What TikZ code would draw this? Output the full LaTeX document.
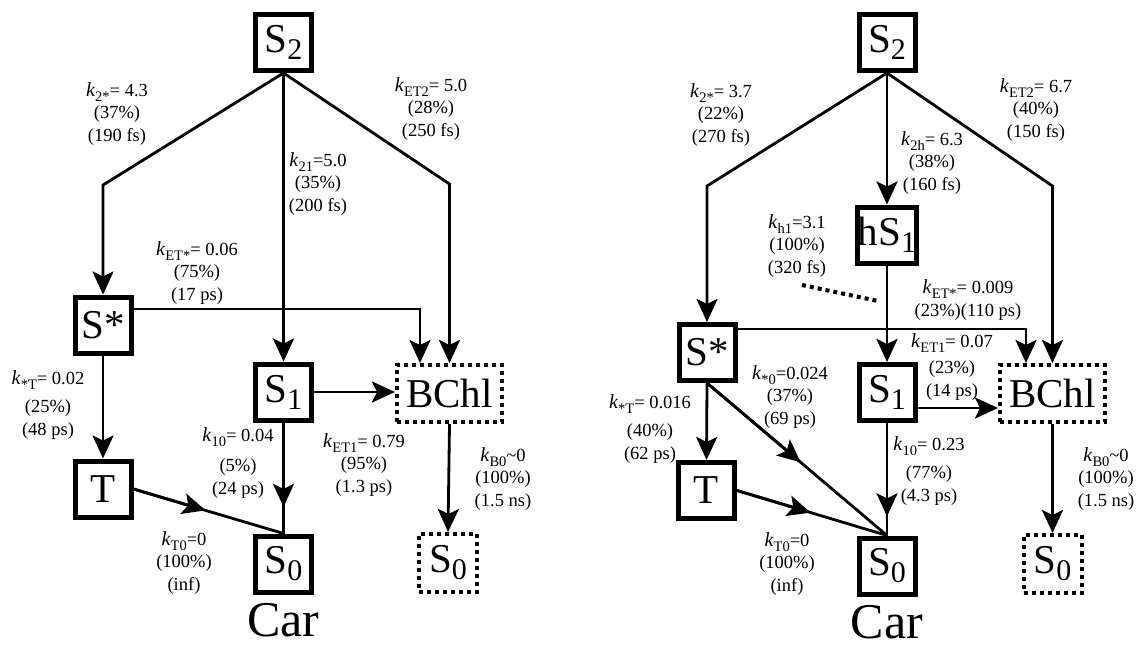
\documentclass[tikz,border=0pt]{standalone}
\usepackage{fontspec}
\setmainfont{Liberation Serif}
\usetikzlibrary{arrows.meta,calc}
\newcommand\kk[1]{{\fontsize{20}{20}\selectfont\textit{k}}\raisebox{-5pt}{\fontsize{14.5}{14.5}\selectfont #1}}
\newcommand\bsub[1]{\raisebox{-7pt}{\fontsize{30}{30}\selectfont #1}}
\begin{document}
\begin{tikzpicture}[x=1pt,y=-1pt,
  box/.style={draw,line width=5pt,minimum width=56pt,minimum height=56pt,inner sep=0pt,font=\fontsize{41}{41}\selectfont},
  dbox/.style={draw,line width=4pt,dash pattern=on 4pt off 4pt,minimum width=58pt,minimum height=58pt,inner sep=0pt,font=\fontsize{41}{41}\selectfont},
  wbox/.style={dbox,minimum width=105pt,minimum height=57pt},
  cartext/.style={inner sep=0pt,font=\fontsize{50}{50}\selectfont},
  conn/.style={line width=2.8pt},
  arr/.style={conn,-{Stealth[length=23pt,width=21pt,inset=5pt]}},
  dotline/.style={line width=4pt,dash pattern=on 4pt off 4pt},
  lab/.style={align=center,font=\fontsize{18.5}{22.5}\selectfont,inner sep=0pt}]
\useasboundingbox (0,0) rectangle (1137,647);

% ---------------- left diagram ----------------
\node[box] (S2L) at (283.5,42.5) {S\bsub{2}};
\node[box] (SsL) at (103,325) {S*};
\node[box] (S1L) at (283.5,392) {S\bsub{1}};
\node[box] (TL) at (103,489) {T};
\node[box] (S0L) at (283.5,564) {S\bsub{0}};
\node[wbox] (BChlL) at (449.5,393.5) {BChl};
\node[dbox] (S0BL) at (448,563) {S\bsub{0}};
\node[cartext] (CarL) at (283.5,620) {Car};

\coordinate (bL1) at (103,185);
\coordinate (bL2) at (449.5,184);
\draw[arr] (S2L.south) -- (bL1) -- (SsL.north);
\draw[arr] (S2L.south) -- (S1L.north);
\draw[arr] (S2L.south) -- (bL2) -- (BChlL.north);
\draw[arr] ([yshift=16pt]SsL.east) -| ([xshift=-29.5pt]BChlL.north);
\draw[arr] (SsL.south) -- (TL.north);
\draw[arr] (S1L.east) -- (S1L.east -| BChlL.west);
\draw[conn] (S1L.south) -- (S0L.north);
\draw[arr] (S1L.south) -- ($(S1L.south)!0.76!(S0L.north)$);
\draw[conn] (TL.east) -- (S0L.north);
\draw[arr] (TL.east) -- ($(TL.east)!0.48!(S0L.north)$);
\draw[arr] (BChlL.south) -- (S0BL.north);

\node[lab] (k2sL) at (117,114) {\kk{2*}= 4.3\\(37\%)\\(190 fs)};
\node[lab] (k21L) at (318,184) {\kk{21}=5.0\\(35\%)\\(200 fs)};
\node[lab] (kET2L) at (431,109) {\kk{ET2}= 5.0\\(28\%)\\(250 fs)};
\node[lab] (kETsL) at (197,273) {\kk{ET*}= 0.06\\(75\%)\\(17 ps)};
\node[lab] (ksTL) at (48,405) {\kk{*T}= 0.02\\[6pt](25\%)\\(48 ps)};
\node[lab] (k10L) at (238,463) {\kk{10}= 0.04\\[8pt](5\%)\\(24 ps)};
\node[lab] (kT0L) at (184,563) {\kk{T0}=0\\(100\%)\\(inf)};
\node[lab] (kET1L) at (364,465) {\kk{ET1}= 0.79\\(95\%)\\(1.3 ps)};
\node[lab] (kB0L) at (503,479) {\kk{B0}\textasciitilde0\\(100\%)\\(1.5 ns)};

% ---------------- right diagram ----------------
\node[box] (S2R) at (887,42.5) {S\bsub{2}};
\node[box] (hS1) at (887,235) {hS\bsub{1}};
\node[box] (SsR) at (707,352.5) {S*};
\node[box] (S1R) at (887,392.5) {S\bsub{1}};
\node[box] (TR) at (706.5,490.5) {T};
\node[box] (S0R) at (887,566) {S\bsub{0}};
\node[wbox] (BChlR) at (1052.5,393.5) {BChl};
\node[dbox] (S0BR) at (1052.5,564) {S\bsub{0}};
\node[cartext] (CarR) at (887,622) {Car};

\coordinate (bR1) at (707,186);
\coordinate (bR2) at (1052.5,186);
\draw[arr] (S2R.south) -- (bR1) -- (SsR.north);
\draw[arr] (S2R.south) -- (hS1.north);
\draw[arr] (S2R.south) -- (bR2) -- (BChlR.north);
\draw[arr] (hS1.south) -- (S1R.north);
\draw[arr] ([yshift=23.5pt]SsR.east) -| ([xshift=-26.5pt]BChlR.north);
\draw[arr] (SsR.south) -- (TR.north);
\draw[conn] (SsR.south) -- (S0R.north);
\draw[arr] (SsR.south) -- ($(SsR.south)!0.52!(S0R.north)$);
\draw[conn] (TR.east) -- (S0R.north);
\draw[arr] (TR.east) -- ($(TR.east)!0.49!(S0R.north)$);
\draw[arr] ([yshift=-15.5pt]S1R.east) -- ([yshift=-15.5pt]S1R.east -| BChlR.west);
\draw[conn] (S1R.south) -- (S0R.north);
\draw[arr] (S1R.south) -- ($(S1R.south)!0.83!(S0R.north)$);
\draw[arr] (BChlR.south) -- (S0BR.north);
\coordinate (d1) at (802,285);
\coordinate (d2) at (878,301);
\draw[dotline] (d1) -- (d2);

\node[lab] (k2sR) at (721,115) {\kk{2*}= 3.7\\(22\%)\\(270 fs)};
\node[lab] (k2hR) at (932,163) {\kk{2h}= 6.3\\(38\%)\\(160 fs)};
\node[lab] (kET2R) at (1036,110) {\kk{ET2}= 6.7\\(40\%)\\(150 fs)};
\node[lab] (kh1R) at (797,246) {\kk{h1}=3.1\\(100\%)\\(320 fs)};
\node[lab] (kETsR) at (968,300) {\kk{ET*}= 0.009\\(23\%)(110 ps)};
\node[lab] (kET1R) at (952,367) {\kk{ET1}= 0.07\\[4pt](23\%)\\(14 ps)};
\node[lab] (ksTR) at (650,429) {\kk{*T}= 0.016\\[6pt](40\%)\\(62 ps)};
\node[lab] (ks0R) at (790,397) {\kk{*0}=0.024\\(37\%)\\(69 ps)};
\node[lab] (kT0R) at (787,564) {\kk{T0}=0\\(100\%)\\(inf)};
\node[lab] (k10R) at (929,471) {\kk{10}= 0.23\\[6pt](77\%)\\(4.3 ps)};
\node[lab] (kB0R) at (1106,479) {\kk{B0}\textasciitilde0\\(100\%)\\(1.5 ns)};
\end{tikzpicture}
\end{document}
